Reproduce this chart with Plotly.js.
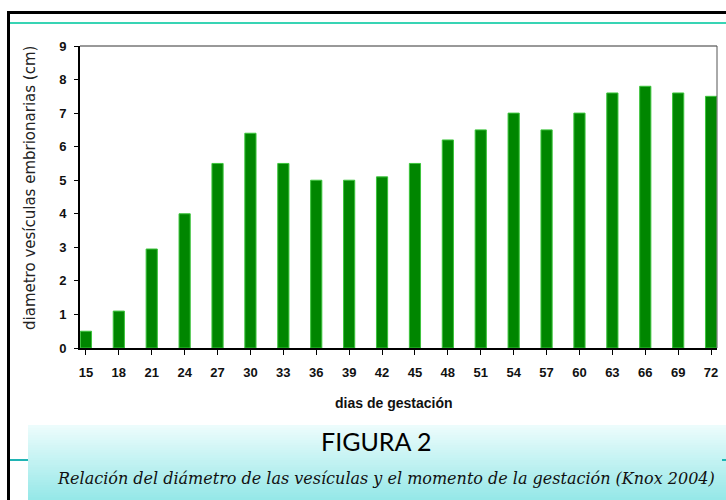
<!DOCTYPE html>
<html>
<head>
<meta charset="utf-8">
<script src="https://cdn.plot.ly/plotly-3.0.1.min.js"></script>
<style>html,body{margin:0;padding:0;background:#fff;}#chart{width:726px;height:500px;}</style>
</head>
<body>
<div id="chart"></div>
<script>
const dias = ["15","18","21","24","27","30","33","36","39","42","45","48","51","54","57","60","63","66","69","72"];
const diametro = [0.5,1.1,2.95,4.0,5.5,6.4,5.5,5.0,5.0,5.1,5.5,6.2,6.5,7.0,6.5,7.0,7.6,7.8,7.6,7.5];
const yTicks = [0,1,2,3,4,5,6,7,8,9];

const W = 726, H = 500, L = 80, R = 9, T = 46, B = 152;
const pw = W - L - R, ph = H - T - B;
const px = x => (x - L) / pw;
const py = y => (H - B - y) / ph;

const shapes = [];
// gradient caption box
const bands = 30, bx0 = 28, bx1 = 726, by0 = 425, by1 = 500;
for (let i = 0; i < bands; i++) {
  const t = i / (bands - 1);
  const r = Math.round(236 - t * (236 - 150));
  const g = Math.round(252 - t * (252 - 232));
  const b = Math.round(252 - t * (252 - 232));
  const ya = by0 + (by1 - by0) * i / bands, yb = by0 + (by1 - by0) * (i + 1) / bands + 0.5;
  shapes.push({type:'rect', xref:'paper', yref:'paper', x0:px(bx0), x1:px(bx1), y0:py(ya), y1:py(yb),
    fillcolor:`rgb(${r},${g},${b})`, line:{width:0}, layer:'below'});
}
// frame
shapes.push({type:'line', xref:'paper', yref:'paper', x0:px(8.5), x1:px(8.5), y0:py(11), y1:py(500), line:{color:'#000', width:3}});
shapes.push({type:'line', xref:'paper', yref:'paper', x0:px(7), x1:px(726), y0:py(12.5), y1:py(12.5), line:{color:'#000', width:3}});
shapes.push({type:'line', xref:'paper', yref:'paper', x0:px(10), x1:px(726), y0:py(23), y1:py(23), line:{color:'#38d4b4', width:2}});
shapes.push({type:'line', xref:'paper', yref:'paper', x0:px(10), x1:px(28), y0:py(460), y1:py(460), line:{color:'#20b4b4', width:2}});
shapes.push({type:'line', xref:'paper', yref:'paper', x0:px(722), x1:px(726), y0:py(460), y1:py(460), line:{color:'#20b4b4', width:2}});
// top and right plot border
shapes.push({type:'line', xref:'paper', yref:'paper', x0:0, x1:1, y0:1, y1:1, line:{color:'#333', width:1}});
shapes.push({type:'line', xref:'paper', yref:'paper', x0:1, x1:1, y0:0, y1:1, line:{color:'#555', width:1}});

const data = [{
  type:'bar', x:dias, y:diametro, width:0.34,
  marker:{color:'#008600', line:{color:'#3cc43c', width:1}},
  hoverinfo:'x+y'
}];

const layout = {
  width:W, height:H,
  margin:{l:L, r:R, t:T, b:B, pad:0},
  paper_bgcolor:'#fff', plot_bgcolor:'#fff',
  showlegend:false,
  bargap:0.66,
  xaxis:{type:'category', range:[-0.18, 19.18], showgrid:false, zeroline:false,
    showline:true, linecolor:'#000', linewidth:2,
    ticks:'outside', ticklen:5, tickwidth:1, tickcolor:'#000', ticklabelstandoff:6,
    tickfont:{family:'Liberation Sans, Arial', size:13, color:'#111', weight:'bold'}},
  yaxis:{range:[0,9], tickvals:yTicks, showgrid:false, zeroline:false,
    showline:true, linecolor:'#000', linewidth:2,
    ticks:'outside', ticklen:4, tickwidth:1, tickcolor:'#000', ticklabelstandoff:5,
    tickfont:{family:'Liberation Sans, Arial', size:13, color:'#111', weight:'bold'}},
  shapes: shapes,
  annotations:[
    {text:'diametro vesículas embrionarias (cm)', xref:'paper', yref:'paper', x:px(30), y:py(188),
     showarrow:false, textangle:-90, xanchor:'center', yanchor:'middle',
     font:{family:'DejaVu Sans', size:15, color:'#222'}},
    {text:'dias de gestación', xref:'paper', yref:'paper', x:px(393), y:py(403),
     showarrow:false, xanchor:'center', yanchor:'middle',
     font:{family:'Liberation Sans, Arial', size:14, color:'#111', weight:'bold'}},
    {text:'FIGURA 2', xref:'paper', yref:'paper', x:px(376), y:py(441),
     showarrow:false, xanchor:'center', yanchor:'middle',
     font:{family:'Lato', size:25, color:'#000'}},
    {text:'<i>Relación del diámetro de las vesículas y el momento de la gestación (Knox 2004)</i>', xref:'paper', yref:'paper', x:px(386), y:py(478),
     showarrow:false, xanchor:'center', yanchor:'middle',
     font:{family:'DejaVu Serif', size:16, color:'#111'}}
  ]
};

Plotly.newPlot('chart', data, layout, {displayModeBar:false, staticPlot:true});
</script>
</body>
</html>
